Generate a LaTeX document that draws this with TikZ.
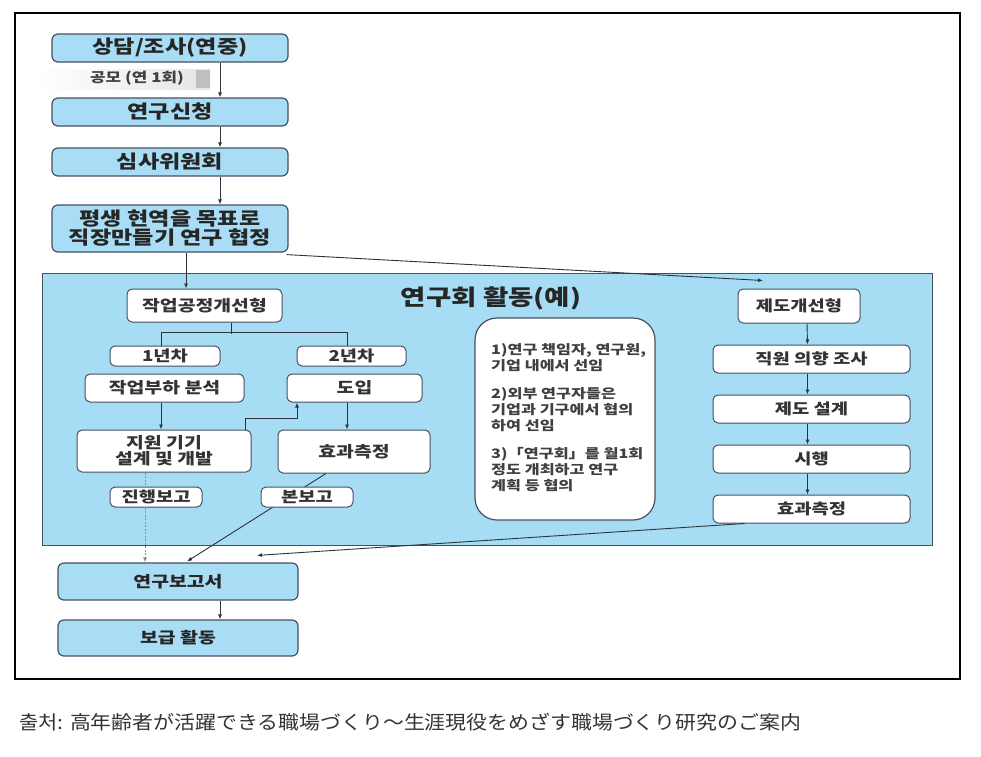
\documentclass[tikz,border=0pt]{standalone}
\usepackage{fontspec}
\newfontfamily\kr{Noto Sans CJK KR}[FakeStretch=1.25]
\newfontfamily\jp{Noto Sans CJK JP}[FakeStretch=1.1]
\usetikzlibrary{arrows.meta}
\definecolor{bluefill}{RGB}{169,221,246}
\definecolor{panelfill}{RGB}{166,220,244}
\definecolor{boxline}{RGB}{70,80,95}
\definecolor{arrline}{RGB}{45,50,60}
\begin{document}
\begin{tikzpicture}[x=1pt,y=-1pt,
  bluebox/.style={draw=boxline,line width=1.2pt,fill=bluefill,rounded corners=6pt,inner sep=0pt,font=\kr\bfseries\fontsize{18.5}{21}\selectfont,text=black!85},
  whitebox/.style={draw=boxline,line width=1pt,fill=white,rounded corners=5pt,inner sep=0pt,font=\kr\bfseries\fontsize{15.5}{18}\selectfont,text=black!80},
  smallbox/.style={whitebox,font=\kr\bfseries\fontsize{15}{17}\selectfont},
  rightbox/.style={whitebox,font=\kr\bfseries\fontsize{15}{17}\selectfont},
  lowbox/.style={bluebox,font=\kr\bfseries\fontsize{15.5}{18}\selectfont},
  arr/.style={draw=arrline,line width=0.9pt,-{Latex[length=5pt,width=4pt]}},
  ln/.style={draw=arrline,line width=0.9pt}]
\useasboundingbox (0,0) rectangle (981,756);
\draw[line width=1.2pt] (15,13) rectangle (960,679);
% left column
\node[bluebox,minimum width=236pt,minimum height=28pt] (b1) at (170,48) {상담/조사(연중)};
\shade[left color=white,right color=black!10] (35,69) rectangle (210,89);
\fill[black!25] (196,70) rectangle (210,88);
\node[font=\kr\bfseries\fontsize{13.5}{15}\selectfont,text=black!75] (gm) at (137,78) {공모 (연 1회)};
\node[bluebox,minimum width=236pt,minimum height=28pt] (b2) at (170,112) {연구신청};
\node[bluebox,minimum width=236pt,minimum height=28pt] (b3) at (170,162) {심사위원회};
\node[bluebox,minimum width=236pt,minimum height=47pt,align=center] (b4) at (170,228.5) {평생 현역을 목표로\\[-2pt]직장만들기 연구 협정};
\draw[arr] ([xshift=50pt]b1.south) -- ([xshift=50pt]b2.north);
\draw[arr] ([xshift=50pt]b2.south) -- ([xshift=50pt]b3.north);
\draw[arr] ([xshift=50pt]b3.south) -- ([xshift=50pt]b4.north);
% bottom
\node[lowbox,minimum width=240pt,minimum height=37pt] (f1) at (178,581.5) {연구보고서};
\node[lowbox,minimum width=240pt,minimum height=36pt] (f2) at (178,638) {보급 활동};
\draw[arr] ([xshift=42pt]f1.south) -- ([xshift=42pt]f2.north);
% panel
\node[draw=boxline,line width=1pt,fill=panelfill,minimum width=890pt,minimum height=272pt,inner sep=0pt] (panel) at (487,409) {};
\node[font=\kr\bfseries\fontsize{22}{24}\selectfont,text=black!85] (title) at (491,298) {연구회 활동(예)};
\node[whitebox,minimum width=155pt,minimum height=33pt] (w1) at (204.5,305.5) {작업공정개선형};
\node[smallbox,minimum width=110pt,minimum height=20pt] (y1) at (165,356) {1년차};
\node[smallbox,minimum width=109pt,minimum height=20pt] (y2) at (351.5,356) {2년차};
\node[whitebox,minimum width=159pt,minimum height=28pt] (a1) at (164.5,388) {작업부하 분석};
\node[whitebox,minimum width=135pt,minimum height=28pt] (a2) at (354.5,388) {도입};
\node[whitebox,minimum width=174pt,minimum height=42pt,align=center] (c1) at (164,451) {지원 기기\\[-2pt]설계 및 개발};
\node[whitebox,minimum width=152pt,minimum height=43pt] (c2) at (354,451.5) {효과측정};
% report connectors
\draw[arr,draw=black!45,dash pattern=on 2pt off 1.5pt] ([xshift=-19pt]c1.south) -- ([xshift=-33pt]f1.north);
\node[smallbox,minimum width=92pt,minimum height=20pt] (r1) at (156,497) {진행보고};
\draw[arr] ([xshift=-28pt]c2.south) -- ([xshift=9pt,yshift=1pt]f1.north);
\node[smallbox,minimum width=92pt,minimum height=20pt] (r2) at (307,497) {본보고};
% tree
\draw[ln] ([xshift=26.5pt]w1.south) -- ++(0,11);
\draw[ln] ([xshift=-4pt]y1.north) -- ++(0,-13) -| ([xshift=-4.5pt]y2.north);
\draw[arr] ([xshift=-3.5pt]a1.south) -- ([xshift=-3pt]c1.north);
\draw[arr] ([xshift=-7.5pt]a2.south) -- ([xshift=-7pt]c2.north);
\draw[arr] ([xshift=81pt]c1.north) -- ++(0,-11) -| ([xshift=-57.5pt]a2.south);
% text box
\node[draw=boxline,line width=1.2pt,fill=white,rounded corners=22pt,minimum width=180pt,minimum height=202pt,inner sep=0pt] (tb) at (565,419) {};
\node[anchor=west,align=left,inner sep=0pt,font=\kr\bfseries\fontsize{13}{16}\selectfont,text=black!75] (tbtext) at (491,418)
 {1)연구 책임자, 연구원,\\기업 내에서 선임\\[12pt]2)외부 연구자들은\\기업과 기구에서 협의\\하여 선임\\[12pt]3)「연구회」를 월1회\\정도 개최하고 연구\\계획 등 협의};
% right column
\node[rightbox,minimum width=122pt,minimum height=34pt] (s0) at (799,306) {제도개선형};
\node[rightbox,minimum width=197pt,minimum height=28pt] (s1) at (811.5,359) {직원 의향 조사};
\node[rightbox,minimum width=197pt,minimum height=28pt] (s2) at (811.5,409) {제도 설계};
\node[rightbox,minimum width=197pt,minimum height=28pt] (s3) at (811.5,459) {시행};
\node[rightbox,minimum width=197pt,minimum height=28pt] (s4) at (811.5,509) {효과측정};
\draw[arr] ([xshift=8pt]s0.south) -- ([xshift=-4pt]s1.north);
\draw[arr] ([xshift=-4pt]s1.south) -- ([xshift=-4pt]s2.north);
\draw[arr] ([xshift=-4pt]s2.south) -- ([xshift=-4pt]s3.north);
\draw[arr] ([xshift=-4pt]s3.south) -- ([xshift=-4pt]s4.north);
\draw[arr] ([xshift=32pt]s4.south west) -- ([xshift=79pt,yshift=7pt]f1.north);
% top connectors
\draw[arr] ([xshift=16pt]b4.south) -- ([xshift=-18.5pt]w1.north);
\draw[arr] ([xshift=-2pt,yshift=-2pt]b4.south east) -- ([xshift=-36pt,yshift=8pt]s0.north);
% caption
\node[anchor=west,font=\jp\fontsize{19}{21}\selectfont,text=black!80] (cap) at (16,722) {출처: 高年齢者が活躍できる職場づくり～生涯現役をめざす職場づくり研究のご案内};
\end{tikzpicture}
\end{document}
